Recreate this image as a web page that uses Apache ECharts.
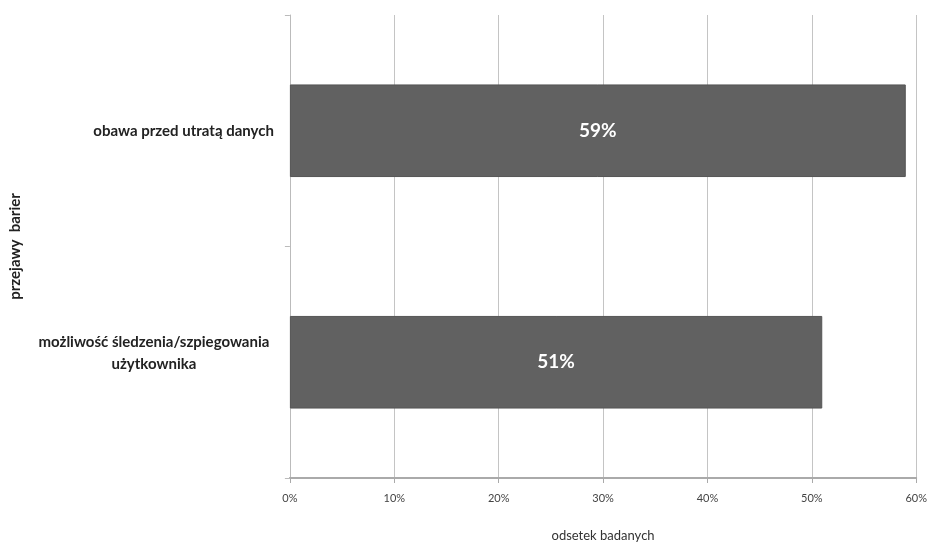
<!DOCTYPE html>
<html>
<head>
<meta charset="utf-8">
<script src="https://cdn.jsdelivr.net/npm/echarts@6/dist/echarts.min.js"></script>
<style>html,body{margin:0;padding:0;background:#fff;}#c{width:930px;height:547px;}</style>
</head>
<body>
<div id="c"></div>
<script>
var categories = ['obawa przed utratą danych', 'możliwość śledzenia/szpiegowania\nużytkownika'];
var values = [59, 51];
var xTicks = [0, 10, 20, 30, 40, 50, 60];
var xAxisName = 'odsetek badanych';
var yAxisName = 'przejawy  barier';

var chart = echarts.init(document.getElementById('c'));
chart.setOption({
  animation: false,
  backgroundColor: '#ffffff',
  textStyle: { fontFamily: 'Lato' },
  grid: { left: 281, right: 12, top: 15, bottom: 60, containLabel: false },
  xAxis: {
    type: 'value', min: xTicks[0], max: xTicks[xTicks.length - 1], interval: 10,
    name: xAxisName, nameLocation: 'middle', nameGap: 51,
    nameTextStyle: { fontFamily: 'Lato', fontSize: 13, color: '#333' },
    axisLine: { show: true, lineStyle: { color: '#aaaaaa', width: 2 } },
    axisTick: { show: true, length: 5, lineStyle: { color: '#aaaaaa' } },
    axisLabel: { formatter: '{value}%', fontSize: 11, color: '#444', margin: 15, fontFamily: 'Lato' },
    splitLine: { show: true, lineStyle: { color: '#c4c4c4', width: 1 } }
  },
  yAxis: {
    type: 'category', data: categories, inverse: true,
    name: yAxisName, nameLocation: 'middle', nameGap: 256, nameRotate: 90,
    nameTextStyle: { fontFamily: 'Lato', fontSize: 15, fontWeight: 'bold', color: '#222' },
    axisLine: { show: true, lineStyle: { color: '#bbbbbb', width: 1 } },
    axisTick: { show: true, length: 5, alignWithLabel: false, lineStyle: { color: '#bbbbbb' } },
    axisLabel: {
      margin: 16, fontSize: 15, fontWeight: 'bold', color: '#222', fontFamily: 'Lato', lineHeight: 22,
      formatter: function (v) {
        if (v.indexOf('\n') >= 0) {
          return v.split('\n').map(function (s) { return '{c|' + s + '}'; }).join('\n') + '\n{e|}';
        }
        return v;
      },
      rich: {
        c: { width: 240, align: 'center', fontSize: 15, fontWeight: 'bold', color: '#222', fontFamily: 'Lato', lineHeight: 22 },
        e: { lineHeight: 18, fontSize: 10 }
      }
    },
    splitLine: { show: false }
  },
  series: [{
    type: 'bar', data: values, barCategoryGap: '60%',
    itemStyle: { color: '#616161', borderColor: '#555555', borderWidth: 1 },
    label: { show: true, position: 'inside', formatter: '{c}%', color: '#ffffff', fontSize: 19, fontWeight: 'bold', fontFamily: 'Lato' }
  }]
});
</script>
</body>
</html>
